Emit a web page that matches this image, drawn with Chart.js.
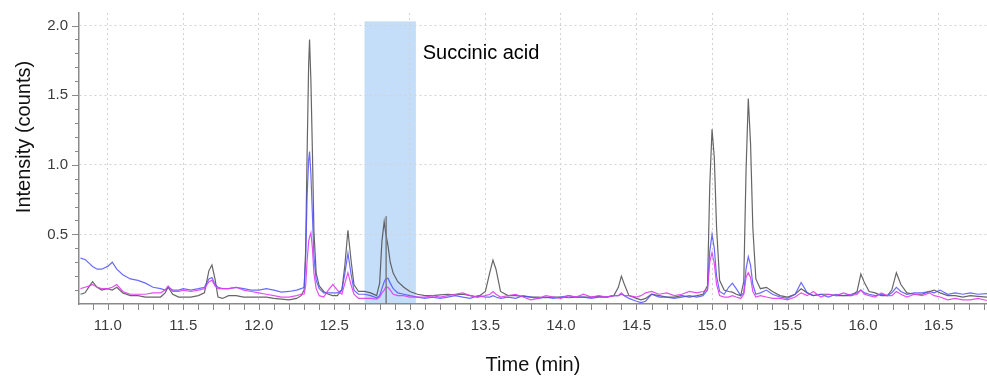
<!DOCTYPE html>
<html>
<head>
<meta charset="utf-8">
<script src="https://cdn.jsdelivr.net/npm/chart.js@4.4.1/dist/chart.umd.min.js"></script>
<style>
  html, body { margin: 0; padding: 0; background: #fff; }
  #wrap { width: 987px; height: 376px; }
</style>
</head>
<body>
<div id="wrap"><canvas id="chrom" width="987" height="376"></canvas></div>
<script>
// retention time (min), shared by the three traces
const times = [
  10.82, 10.85, 10.88, 10.90, 10.93, 10.96, 11.00, 11.03, 11.06, 11.10, 11.15, 11.20, 11.25, 11.30,
  11.35, 11.38, 11.40, 11.43, 11.47, 11.50, 11.55, 11.60, 11.64, 11.67, 11.69, 11.71, 11.73, 11.76, 11.80, 11.85, 11.90, 11.95, 12.00, 12.05, 12.10, 12.15, 12.20, 12.25, 12.28,
  12.30, 12.31, 12.32, 12.33, 12.336, 12.345, 12.355, 12.365, 12.38, 12.40, 12.43, 12.46, 12.49, 12.52, 12.55, 12.57, 12.59, 12.61, 12.63, 12.66, 12.70,
  12.74, 12.78, 12.80, 12.815, 12.83, 12.84, 12.855, 12.87, 12.89, 12.92, 12.96, 13.00, 13.05, 13.10, 13.15, 13.20, 13.25, 13.30,
  13.35, 13.40, 13.45, 13.50, 13.53, 13.55, 13.57, 13.60, 13.65, 13.70, 13.75, 13.80, 13.85, 13.90, 13.95, 14.00, 14.05, 14.10, 14.15, 14.20, 14.25, 14.30, 14.35,
  14.38, 14.40, 14.42, 14.45, 14.50, 14.53, 14.56, 14.60, 14.65, 14.70, 14.75, 14.80, 14.85, 14.90, 14.94,
  14.97, 14.985, 15.00, 15.015, 15.03, 15.05, 15.08, 15.11, 15.135, 15.16, 15.19, 15.21, 15.225, 15.24, 15.255, 15.27, 15.29, 15.32, 15.36, 15.40, 15.45,
  15.50, 15.55, 15.59, 15.63, 15.67, 15.72, 15.77, 15.82, 15.87, 15.92, 15.96, 15.985, 16.01, 16.04, 16.08, 16.12, 16.16, 16.19, 16.22, 16.25, 16.29, 16.34, 16.39, 16.44, 16.47, 16.51, 16.56, 16.61, 16.66, 16.71, 16.76, 16.82
];

const grayTrace = [
  0.07, 0.08, 0.13, 0.16, 0.12, 0.10, 0.11, 0.10, 0.12, 0.08, 0.06, 0.06, 0.05, 0.05,
  0.05, 0.08, 0.12, 0.07, 0.05, 0.05, 0.05, 0.06, 0.08, 0.24, 0.28, 0.18, 0.05, 0.04, 0.06, 0.06, 0.05, 0.05, 0.05, 0.05, 0.04, 0.035, 0.03, 0.04, 0.06,
  0.10, 0.38, 1.09, 1.72, 1.90, 1.60, 1.09, 0.52, 0.22, 0.13, 0.09, 0.07, 0.06, 0.06, 0.10, 0.28, 0.53, 0.32, 0.14, 0.09, 0.09,
  0.08, 0.06, 0.15, 0.45, 0.59, 0.51, 0.42, 0.30, 0.22, 0.16, 0.12, 0.09, 0.07, 0.06, 0.06, 0.065, 0.07, 0.065,
  0.07, 0.06, 0.05, 0.09, 0.23, 0.315, 0.25, 0.09, 0.06, 0.06, 0.055, 0.05, 0.05, 0.045, 0.05, 0.05, 0.045, 0.05, 0.05, 0.05, 0.055, 0.05, 0.06,
  0.12, 0.20, 0.14, 0.06, 0.04, 0.03, 0.04, 0.07, 0.06, 0.05, 0.05, 0.06, 0.05, 0.06, 0.07,
  0.13, 0.85, 1.255, 1.05, 0.55, 0.17, 0.10, 0.09, 0.085, 0.07, 0.06, 0.16, 0.95, 1.476, 1.15, 0.55, 0.18, 0.11, 0.12, 0.09, 0.06,
  0.05, 0.07, 0.11, 0.08, 0.06, 0.07, 0.07, 0.06, 0.06, 0.06, 0.09, 0.215, 0.15, 0.09, 0.08, 0.06, 0.06, 0.10, 0.225, 0.14, 0.08, 0.07, 0.07, 0.09, 0.10, 0.08, 0.06, 0.06, 0.05, 0.06, 0.055, 0.05
];

const blueTrace = [
  0.33, 0.32, 0.29, 0.27, 0.25, 0.25, 0.27, 0.30, 0.25, 0.21, 0.18, 0.17, 0.15, 0.12,
  0.11, 0.10, 0.12, 0.10, 0.10, 0.11, 0.10, 0.11, 0.12, 0.18, 0.19, 0.14, 0.12, 0.11, 0.11, 0.12, 0.11, 0.10, 0.10, 0.11, 0.10, 0.085, 0.09, 0.10, 0.11,
  0.12, 0.32, 0.78, 1.03, 1.095, 0.93, 0.64, 0.34, 0.17, 0.11, 0.08, 0.08, 0.08, 0.08, 0.10, 0.22, 0.365, 0.22, 0.10, 0.07, 0.07,
  0.06, 0.045, 0.06, 0.11, 0.16, 0.18, 0.185, 0.15, 0.11, 0.08, 0.07, 0.06, 0.05, 0.04, 0.05, 0.04, 0.05, 0.06,
  0.05, 0.04, 0.06, 0.05, 0.05, 0.06, 0.05, 0.04, 0.05, 0.04, 0.06, 0.05, 0.04, 0.05, 0.04, 0.05, 0.06, 0.05, 0.05, 0.04, 0.05, 0.05, 0.06,
  0.06, 0.07, 0.06, 0.04, 0.02, 0.01, 0.02, 0.07, 0.05, 0.05, 0.04, 0.05, 0.06, 0.05, 0.06,
  0.10, 0.38, 0.50, 0.40, 0.20, 0.09, 0.07, 0.12, 0.15, 0.11, 0.06, 0.08, 0.25, 0.34, 0.28, 0.14, 0.07, 0.08, 0.10, 0.07, 0.05,
  0.04, 0.07, 0.155, 0.08, 0.06, 0.07, 0.05, 0.07, 0.06, 0.07, 0.08, 0.10, 0.08, 0.07, 0.06, 0.07, 0.06, 0.08, 0.12, 0.09, 0.07, 0.08, 0.08, 0.09, 0.08, 0.10, 0.07, 0.08, 0.07, 0.08, 0.07, 0.075
];

const pinkTrace = [
  0.11, 0.12, 0.13, 0.14, 0.12, 0.11, 0.11, 0.12, 0.14, 0.09, 0.07, 0.07, 0.07, 0.08,
  0.08, 0.10, 0.13, 0.09, 0.09, 0.10, 0.09, 0.10, 0.11, 0.16, 0.17, 0.13, 0.11, 0.11, 0.11, 0.12, 0.10, 0.09, 0.08, 0.07, 0.06, 0.05, 0.05, 0.06, 0.07,
  0.07, 0.13, 0.31, 0.45, 0.48, 0.51, 0.40, 0.22, 0.11, 0.06, 0.05, 0.10, 0.14, 0.10, 0.07, 0.15, 0.225, 0.14, 0.07, 0.04, 0.04,
  0.04, 0.035, 0.05, 0.08, 0.10, 0.12, 0.12, 0.10, 0.07, 0.06, 0.06, 0.05, 0.05, 0.05, 0.06, 0.05, 0.06, 0.07,
  0.08, 0.06, 0.05, 0.06, 0.07, 0.09, 0.07, 0.05, 0.06, 0.07, 0.05, 0.03, 0.04, 0.06, 0.05, 0.04, 0.06, 0.05, 0.07, 0.05, 0.06, 0.05, 0.06,
  0.06, 0.08, 0.06, 0.06, 0.05, 0.06, 0.08, 0.09, 0.07, 0.08, 0.06, 0.07, 0.09, 0.08, 0.09,
  0.10, 0.30, 0.37, 0.29, 0.14, 0.06, 0.05, 0.05, 0.06, 0.05, 0.04, 0.07, 0.19, 0.225, 0.19, 0.09, 0.05, 0.06, 0.05, 0.04, 0.04,
  0.03, 0.05, 0.08, 0.06, 0.09, 0.05, 0.07, 0.06, 0.08, 0.06, 0.07, 0.10, 0.07, 0.06, 0.05, 0.08, 0.06, 0.06, 0.09, 0.07, 0.05, 0.07, 0.06, 0.08, 0.06, 0.05, 0.03, 0.04, 0.03, 0.03, 0.04, 0.025
];

// cursor line dropped on the succinic acid peak
const markerTime = 12.843;
const markerTop = 0.63;

// highlighted window and its label
const bandStart = 12.70;
const bandEnd = 13.04;
const bandTop = 2.03;
const bandLabel = 'Succinic acid';
const labelTime = 13.085;
const labelValue = 1.80;

const xMin = 10.81, xMax = 16.82;
const yMin = 0, yMax = 2.09;

const FONT = '"Liberation Sans", Arial, Helvetica, sans-serif';

function toPoints(vals) {
    return times.map(function (t, i) { return {x: t, y: vals[i]}; });
}

function isMajor(v) {
    return Math.abs(v * 2 - Math.round(v * 2)) < 1e-6;
}

const bandPlugin = {
    id: 'band',
    beforeDraw(chart) {
        const {ctx, scales: {x, y}} = chart;
        const x1 = x.getPixelForValue(bandStart);
        const x2 = x.getPixelForValue(bandEnd);
        const y1 = y.getPixelForValue(bandTop);
        const y2 = y.getPixelForValue(yMin);
        ctx.save();
        ctx.fillStyle = 'rgb(196, 221, 249)';
        ctx.fillRect(x1, y1, x2 - x1, y2 - y1);
        ctx.restore();
    },
    afterDraw(chart) {
        const {ctx, scales: {x, y}} = chart;
        ctx.save();
        // tick marks, long on the labelled ones
        ctx.strokeStyle = '#8a8a8a';
        ctx.lineWidth = 1;
        x.ticks.forEach(function (t) {
            const px = Math.round(x.getPixelForValue(t.value)) + 0.5;
            ctx.beginPath();
            ctx.moveTo(px, y.bottom);
            ctx.lineTo(px, y.bottom + 6);
            ctx.stroke();
        });
        y.ticks.forEach(function (t) {
            if (t.value === 0) return;
            const py = Math.round(y.getPixelForValue(t.value)) + 0.5;
            const len = isMajor(t.value) ? 7 : 4;
            ctx.beginPath();
            ctx.moveTo(x.left - len, py);
            ctx.lineTo(x.left, py);
            ctx.stroke();
        });
        // annotation
        ctx.fillStyle = '#000';
        ctx.font = '20px ' + FONT;
        ctx.textBaseline = 'middle';
        ctx.textAlign = 'left';
        ctx.fillText(bandLabel, x.getPixelForValue(labelTime), y.getPixelForValue(labelValue));
        // y axis title
        ctx.translate(24, 137);
        ctx.rotate(-Math.PI / 2);
        ctx.textAlign = 'center';
        ctx.fillStyle = '#111';
        ctx.fillText('Intensity (counts)', 0, 0);
        ctx.restore();
    }
};

const lineStyle = {
    pointRadius: 0,
    borderWidth: 1.2,
    tension: 0,
    fill: false
};

const data = {
    datasets: [
        Object.assign({label: 'Sample', data: toPoints(grayTrace), borderColor: 'rgba(75, 75, 75, 0.85)', order: 3}, lineStyle),
        Object.assign({label: 'Standard A', data: toPoints(blueTrace), borderColor: 'rgba(80, 80, 255, 0.85)', order: 2}, lineStyle),
        Object.assign({label: 'Standard B', data: toPoints(pinkTrace), borderColor: 'rgba(225, 60, 240, 0.9)', order: 1}, lineStyle),
        Object.assign({label: 'Marker', data: [{x: markerTime, y: markerTop}, {x: markerTime, y: yMin}], borderColor: 'rgba(120, 120, 120, 0.7)', order: 0}, lineStyle, {borderWidth: 1})
    ]
};

const config = {
    type: 'line',
    data: data,
    plugins: [bandPlugin],
    options: {
        responsive: false,
        devicePixelRatio: 1,
        animation: false,
        layout: {padding: {top: 13, right: 0, bottom: 0, left: 0}},
        plugins: {legend: {display: false}, tooltip: {enabled: false}},
        scales: {
            x: {
                type: 'linear',
                min: xMin,
                max: xMax,
                border: {display: true, color: '#8a8a8a', width: 1.5, dash: [2, 3]},
                grid: {
                    drawTicks: false,
                    lineWidth: 1,
                    color: function (c) { return c.tick && isMajor(c.tick.value) ? '#d2d2d2' : 'rgba(0,0,0,0)'; }
                },
                ticks: {
                    stepSize: 0.1,
                    includeBounds: false,
                    autoSkip: false,
                    maxRotation: 0,
                    minRotation: 0,
                    padding: 13,
                    color: '#3c3c3c',
                    font: {family: FONT, size: 15},
                    callback: function (v) { return isMajor(v) ? v.toFixed(1) : ''; }
                },
                title: {
                    display: true,
                    text: 'Time (min)',
                    color: '#111',
                    font: {family: FONT, size: 20},
                    padding: {top: 0, bottom: -1}
                },
                afterFit: function (s) {
                    s.height = 72;
                    s.paddingLeft = 0; s.paddingRight = 0;
                }
            },
            y: {
                min: yMin,
                max: yMax,
                border: {display: true, color: '#8a8a8a', width: 1.5, dash: [2, 3]},
                grid: {
                    drawTicks: false,
                    lineWidth: 1,
                    color: function (c) { return c.tick && c.tick.value > 0 && isMajor(c.tick.value) ? '#d2d2d2' : 'rgba(0,0,0,0)'; }
                },
                ticks: {
                    stepSize: 0.1,
                    includeBounds: false,
                    autoSkip: false,
                    padding: 11,
                    color: '#3c3c3c',
                    font: {family: FONT, size: 15},
                    callback: function (v) { return v > 0 && isMajor(v) ? v.toFixed(1) : ''; }
                },
                afterFit: function (s) {
                    s.width = 79;
                    s.paddingTop = 0; s.paddingBottom = 0;
                }
            }
        }
    }
};

const chrom = new Chart(document.getElementById('chrom'), config);
</script>
</body>
</html>
